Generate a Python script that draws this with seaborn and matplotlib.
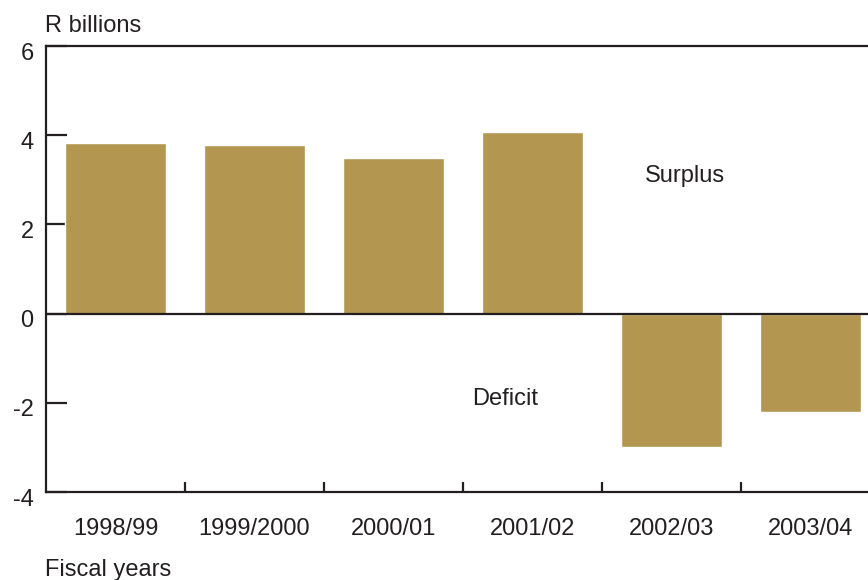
import seaborn as sns
import matplotlib.pyplot as plt
import matplotlib.transforms as mtransforms
import pandas as pd

years = ["1998/99", "1999/2000", "2000/01", "2001/02", "2002/03", "2003/04"]
balance = [3.83, 3.79, 3.50, 4.08, -2.98, -2.20]
y_ticks = [-4, -2, 0, 2, 4, 6]

ink = "#231f20"
gold = "#b3964f"

sns.set_style("white")
plt.rcParams["font.family"] = ["Liberation Sans", "DejaVu Sans"]
plt.rcParams["text.color"] = ink

df = pd.DataFrame({"year": years, "balance": balance})

fig = plt.figure(figsize=(8.68, 5.8), dpi=100)
W, H = 868, 580
ax = fig.add_axes([46 / W, 1 - 492 / H, 834 / W, 446 / H])

sns.barplot(data=df, x="year", y="balance", color=gold, saturation=1,
            width=0.73, ax=ax, zorder=2)

ax.set_xlim(-0.5, 5.5)
ax.set_ylim(-4, 6)
ax.set_yticks(y_ticks)
ax.set_yticklabels([str(t) for t in y_ticks])
ax.set_xlabel("")
ax.set_ylabel("")

ax.axhline(0, color=ink, lw=1.6, zorder=3)

for side in ["left", "bottom", "top"]:
    ax.spines[side].set_color(ink)
    ax.spines[side].set_linewidth(1.6)
ax.spines["right"].set_visible(False)

ax.tick_params(axis="y", left=True, direction="in", length=15, width=1.6,
               color=ink, labelsize=17, labelcolor=ink, pad=9)
ax.tick_params(axis="x", which="major", bottom=True, length=0, labelsize=17,
               labelcolor=ink, pad=19)
ax.set_xticks([i + 0.5 for i in range(len(years) - 1)], minor=True)
ax.tick_params(axis="x", which="minor", bottom=True, direction="in",
               length=7, width=1.6, color=ink)

shift = mtransforms.ScaledTranslation(0, -5 / 100, fig.dpi_scale_trans)
for lab in ax.get_yticklabels():
    lab.set_transform(lab.get_transform() + shift)

ax.text(4.10, 2.96, "Surplus", ha="center", va="baseline", fontsize=17, color=ink)
ax.text(2.80, -2.04, "Deficit", ha="center", va="baseline", fontsize=17, color=ink)

fig.text(45 / W, 1 - 32 / H, "R billions", ha="left", va="baseline",
         fontsize=17, color=ink)
fig.text(45 / W, 1 - 576 / H, "Fiscal years", ha="left", va="baseline",
         fontsize=17, color=ink)

fig.savefig("out.png", dpi=100)
